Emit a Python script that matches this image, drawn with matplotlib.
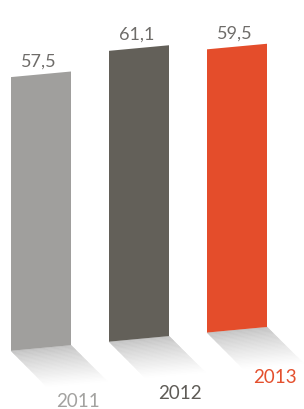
import numpy as np
import matplotlib
matplotlib.use("Agg")
import matplotlib.pyplot as plt
from matplotlib.transforms import Affine2D, IdentityTransform
from matplotlib.patches import Polygon
from matplotlib.colors import to_rgb

years = ["2011", "2012", "2013"]
values = [57.5, 61.1, 59.5]
value_labels = ["57,5", "61,1", "59,5"]
bar_colors = ["#a09f9d", "#636059", "#e44d2b"]
year_colors = ["#a3a2a0", "#5f5c57", "#e4502e"]

W, H = 304, 409
fig = plt.figure(figsize=(W / 100, H / 100), dpi=100)
base = 57.2
scale = 4.76
ax = fig.add_axes([0, base / H, 1, 70 * scale / H])
ax.axis('off')

skew = Affine2D().skew(0, np.arctan(0.093))
tr = ax.transData + skew
x = np.arange(len(values))
w = 60 / 98
bars = ax.bar(x, values, width=w, color=bar_colors, transform=tr, zorder=3,
              clip_on=False)
ax.set_ylim(0, 70)
ax.set_xlim(-41 / 98, (W - 41) / 98)

# shadows
d = np.array([36.0, -36.0])
N = 30
c0 = np.array(to_rgb("#c0c0c0"))
c1 = np.array([1.0, 1.0, 1.0])
for xi in x:
    p0 = tr.transform((xi - w / 2, 0))
    p1 = tr.transform((xi + w / 2, 0))
    for k in range(N):
        t0, t1 = k / N, (k + 1) / N
        f = (t0 + t1) / 2
        col = c0 + (c1 - c0) * (f ** 0.8)
        poly = Polygon([p0 + d * t0, p1 + d * t0, p1 + d * t1, p0 + d * t1],
                       closed=True, facecolor=col, edgecolor=col, lw=0.3,
                       transform=IdentityTransform(), clip_on=False, zorder=1)
        ax.add_patch(poly)

# value labels
for xi, v, lbl in zip(x, values, value_labels):
    ax.annotate(lbl, (xi, v), xycoords=tr, xytext=(-2, 5),
                textcoords='offset pixels', ha='center', va='bottom',
                fontsize=13, color='#6e6c69', family='Lato',
                annotation_clip=False)

# year labels
year_offsets = [(37, -54), (41, -55), (38, -48)]
for xi, yr, col, off in zip(x, years, year_colors, year_offsets):
    ax.annotate(yr, (xi, 0), xycoords=tr, xytext=off,
                textcoords='offset pixels', ha='center', va='center',
                fontsize=13.5, color=col, family='Lato',
                annotation_clip=False)

fig.savefig("out.png", dpi=100)
